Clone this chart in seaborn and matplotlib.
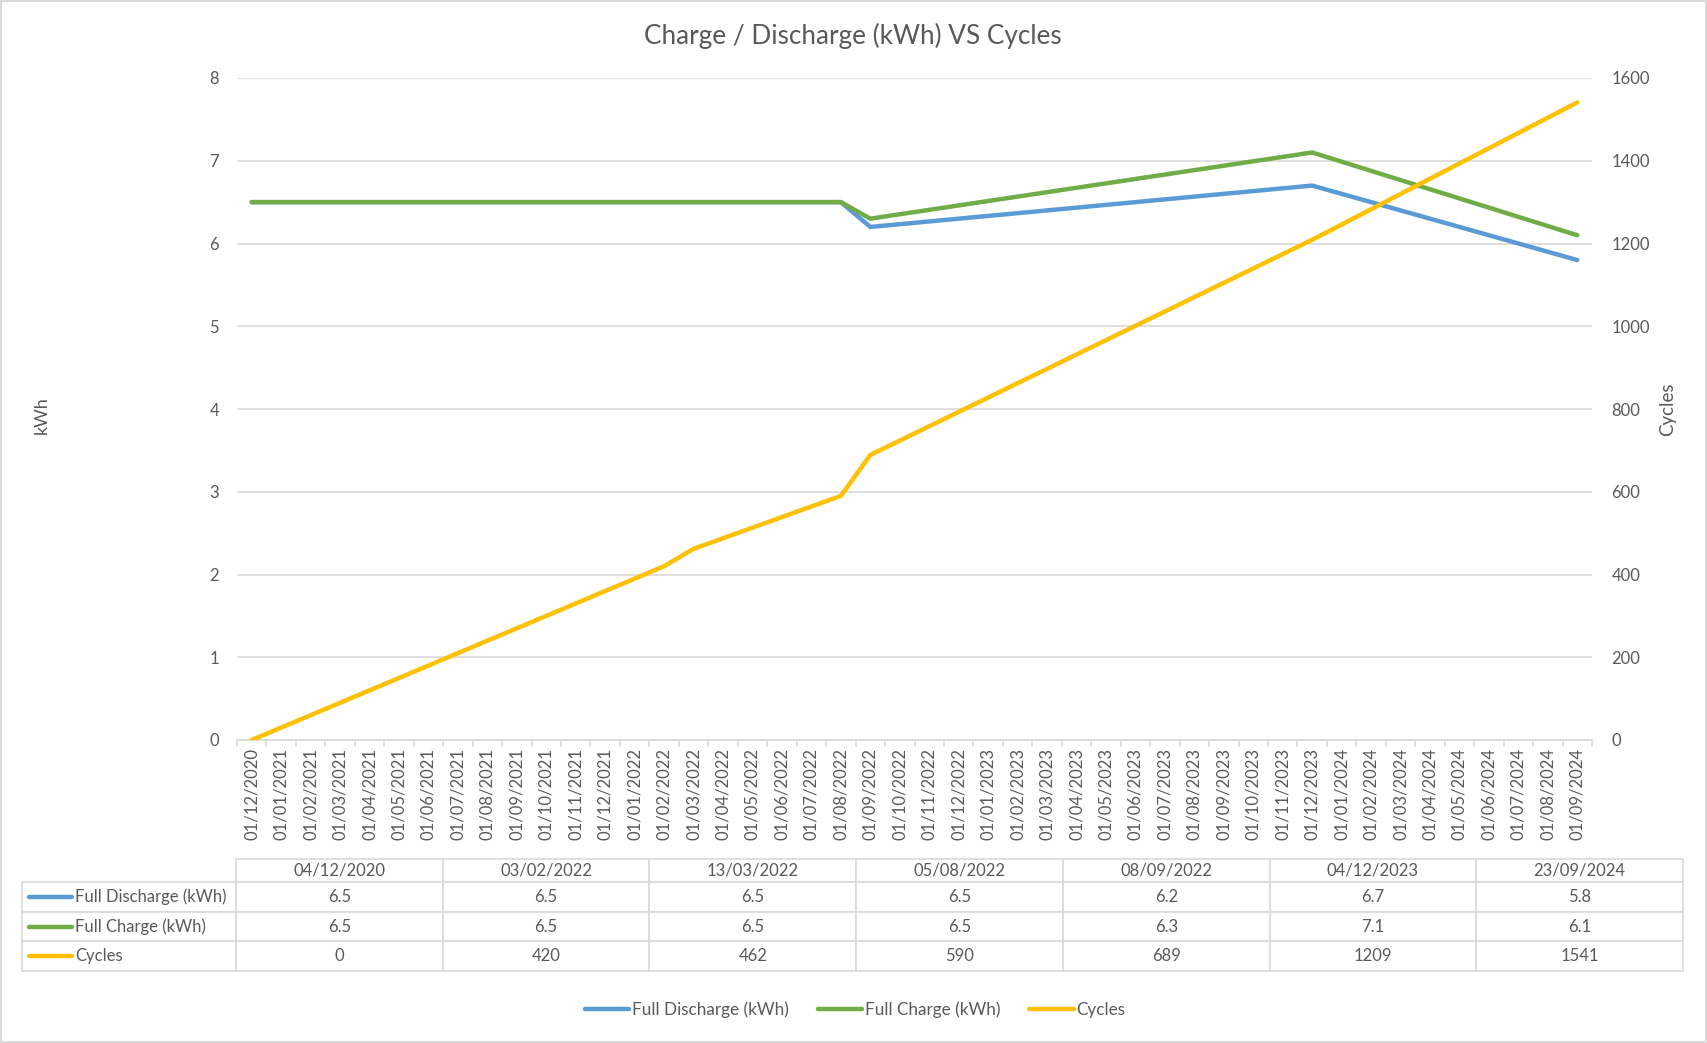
import pandas as pd
import numpy as np
import seaborn as sns
import matplotlib.pyplot as plt
from matplotlib.patches import Rectangle


# Data
dates = ['04/12/2020', '03/02/2022', '13/03/2022', '05/08/2022', '08/09/2022', '04/12/2023', '23/09/2024']
full_discharge = [6.5, 6.5, 6.5, 6.5, 6.2, 6.7, 5.8]
full_charge = [6.5, 6.5, 6.5, 6.5, 6.3, 7.1, 6.1]
cycles = [0, 420, 462, 590, 689, 1209, 1541]
series_names = ['Full Discharge (kWh)', 'Full Charge (kWh)', 'Cycles']
colors = ['#5B9BD5', '#70AD47', '#FFC000']
axis_start, axis_end = '2020-12', '2024-09'
kwh_ticks = [0, 1, 2, 3, 4, 5, 6, 7, 8]
cycle_ticks = [0, 200, 400, 600, 800, 1000, 1200, 1400, 1600]
title = 'Charge / Discharge (kWh) VS Cycles'

# Manage data: month-based date axis (like Excel's base unit = months)
month_axis = pd.period_range(axis_start, axis_end, freq='M')
periods = pd.to_datetime(dates, dayfirst=True).to_period('M')
month_idx = [(p - month_axis[0]).n for p in periods]
month_labels = [p.strftime('01/%m/%Y') for p in month_axis]

kwh_df = pd.DataFrame({
    'month': month_idx * 2,
    'kwh': full_discharge + full_charge,
    'series': [series_names[0]] * len(dates) + [series_names[1]] * len(dates),
})
cyc_df = pd.DataFrame({'month': month_idx, 'cycles': cycles})

sns.set_style('white')
plt.rcParams['font.family'] = ['Lato', 'DejaVu Sans']
txt = '#595959'
grid = '#D9D9D9'
lw = 3.2

W, H = 1707, 1043
fig = plt.figure(figsize=(W / 100, H / 100), dpi=100)


def box(x0, y0, x1, y1):
    return [x0 / W, 1 - y1 / H, (x1 - x0) / W, (y1 - y0) / H]


ax = fig.add_axes(box(237, 78, 1592, 740))
ax2 = ax.twinx()

sns.lineplot(data=kwh_df, x='month', y='kwh', hue='series', palette=colors[:2],
             ax=ax, legend=False, linewidth=lw, solid_capstyle='round')
sns.lineplot(data=cyc_df, x='month', y='cycles', color=colors[2],
             ax=ax2, linewidth=lw, solid_capstyle='round')

# Left axis
ax.set_ylim(0, 8)
ax.set_yticks(kwh_ticks)
ax.set_xlim(-0.5, len(month_axis) - 0.5)
ax.set_xticks(range(len(month_axis)))
ax.set_xticklabels(month_labels, rotation=90)
ax.set_xticks(np.arange(-0.5, len(month_axis)), minor=True)
ax.tick_params(axis='x', which='major', length=0, pad=6, labelsize=12, labelcolor=txt)
ax.tick_params(axis='x', which='minor', length=5, width=1.2, color=grid, direction='out', bottom=True)
ax.tick_params(axis='y', length=0, pad=13, labelsize=12, labelcolor=txt)
ax.yaxis.grid(True, color=grid, linewidth=1.2)
ax.set_axisbelow(True)
for s in ['top', 'left', 'right']:
    ax.spines[s].set_visible(False)
ax.spines['bottom'].set_color(grid)
ax.spines['bottom'].set_linewidth(1.2)
ax.set_xlabel('')
ax.set_ylabel('kWh', fontsize=13, color=txt)
ax.yaxis.set_label_coords((50 - 237) / 1355, 0.49)

# Right axis
ax2.set_ylim(0, 1600)
ax2.set_yticks(cycle_ticks)
ax2.tick_params(axis='y', length=0, pad=14, labelsize=12, labelcolor=txt)
for s in ax2.spines.values():
    s.set_visible(False)
ax2.set_ylabel('Cycles', fontsize=13.5, color=txt)
ax2.yaxis.set_label_coords((1659 - 237) / 1355, 0.5)

fig.text(853 / W, 1 - 36 / H, title, ha='center', va='center', fontsize=18.8, color=txt)

# Data table below the axis
ax_t = fig.add_axes(box(22, 859, 1683, 971))
ax_t.axis('off')
cell_text = [[''] + dates]
cell_text.append([''] + [f'{v:.1f}' for v in full_discharge])
cell_text.append([''] + [f'{v:.1f}' for v in full_charge])
cell_text.append([''] + [str(v) for v in cycles])
col_w = [214] + [206.7] * len(dates)
col_w = [w / sum(col_w) for w in col_w]
row_h = [23, 29.5, 29.5, 29.5]
tbl = ax_t.table(cellText=cell_text, colWidths=col_w, cellLoc='center', bbox=[0, 0, 1, 1])
tbl.auto_set_font_size(False)
tbl.set_fontsize(12)
for (r, c), cell in tbl.get_celld().items():
    cell.set_height(row_h[r] / sum(row_h))
    cell.set_edgecolor(grid)
    cell.set_linewidth(1.2)
    cell.get_text().set_color(txt)
    if r == 0 and c == 0:
        cell.visible_edges = ''

cum = np.cumsum([0] + row_h)
for i, name in enumerate(series_names):
    yc = 1 - (cum[i + 1] + row_h[i + 1] / 2) / sum(row_h)
    ax_t.plot([7 / 1661, 50 / 1661], [yc, yc], transform=ax_t.transAxes, color=colors[i],
              linewidth=lw, solid_capstyle='round', clip_on=False)
    ax_t.text(53 / 1661, yc, name, transform=ax_t.transAxes, ha='left', va='center',
              fontsize=12, color=txt)

# Legend
handles = [plt.Line2D([], [], color=c, linewidth=lw, solid_capstyle='round') for c in colors]
leg = fig.legend(handles, series_names, loc='center', bbox_to_anchor=(855 / W, 1 - 1010 / H),
                 ncol=3, frameon=False, fontsize=12.3, handlelength=2.6, handletextpad=0.15,
                 columnspacing=1.7)
for t in leg.get_texts():
    t.set_color(txt)

# Chart border
fig.add_artist(Rectangle((1 / W, 1 / H), 1 - 2 / W, 1 - 2 / H, transform=fig.transFigure,
                         fill=False, edgecolor=grid, linewidth=1.5))

plt.savefig('out.png', dpi=100)
